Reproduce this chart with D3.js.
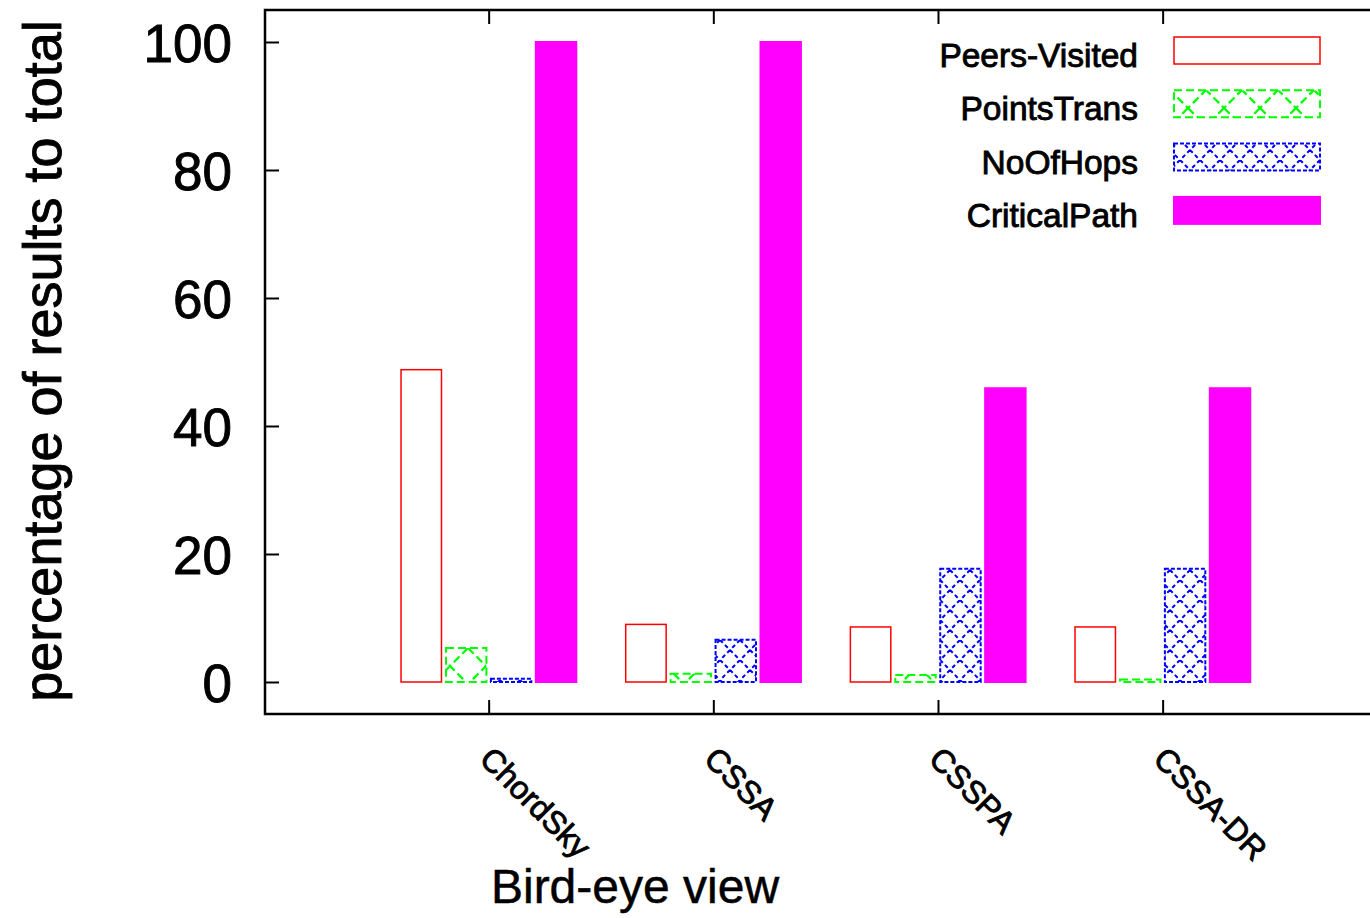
<!DOCTYPE html>
<html>
<head>
<meta charset="utf-8">
<script src="https://cdn.jsdelivr.net/npm/d3@7"></script>
<style>
  html, body { margin: 0; padding: 0; background: #fff; }
  svg { display: block; font-family: "Liberation Sans", Arial, sans-serif; }
  .heavy { stroke: #000; stroke-width: 0.9px; paint-order: stroke fill; }
</style>
</head>
<body>
<svg id="chart" width="1370" height="918"></svg>
<script>
// Categories (x positions 1..4) and the four measured series (percent of total)
const categories = ["ChordSky", "CSSA", "CSSPA", "CSSA-DR"];
const seriesNames = ["Peers-Visited", "PointsTrans", "NoOfHops", "CriticalPath"];
const peersVisited = [48.8, 9.0, 8.6, 8.6];
const pointsTrans  = [5.3, 1.3, 1.1, 0.4];
const noOfHops     = [0.5, 6.6, 17.7, 17.7];
const criticalPath = [100, 100, 45.9, 45.9];
const yTicks = [0, 20, 40, 60, 80, 100];

const seriesValues = [peersVisited, pointsTrans, noOfHops, criticalPath];

const svg = d3.select("#chart");
const W = 1370, H = 918;

// Plot box: frame continues past the right edge of the canvas
const x = d3.scaleLinear().domain([0, 5]).range([264, 1387.3]);
const y = d3.scaleLinear().domain([-5, 105]).range([714, 10]);

// Fill patterns for the hatched series
const defs = svg.append("defs");
function crossHatch(id, color, period, dash, width) {
  const p = defs.append("pattern")
    .attr("id", id)
    .attr("patternUnits", "userSpaceOnUse")
    .attr("width", period).attr("height", period);
  p.append("path")
    .attr("d", `M0,0 L${period},${period} M${period},0 L0,${period}`)
    .attr("stroke", color).attr("stroke-width", width)
    .attr("stroke-dasharray", dash).attr("fill", "none");
}
crossHatch("hatchGreen", "#00ff00", 36, "8,4", 2.2);
crossHatch("hatchBlue", "#0000ff", 20, "4,3", 2.0);

const styles = [
  { fill: "none", stroke: "#ff0000", dash: null },
  { fill: "url(#hatchGreen)", stroke: "#00ff00", dash: "8,4" },
  { fill: "url(#hatchBlue)", stroke: "#0000ff", dash: "4,2" },
  { fill: "#ff00ff", stroke: "#ff00ff", dash: null }
];

const offsets = [-0.3, -0.1, 0.1, 0.3];
const barW = 0.18;

// Bars
seriesValues.forEach((vals, s) => {
  const st = styles[s];
  svg.append("g").selectAll("rect")
    .data(vals)
    .join("rect")
    .attr("x", (d, i) => x(i + 1 + offsets[s] - barW / 2))
    .attr("width", x(barW) - x(0))
    .attr("y", d => y(d))
    .attr("height", d => y(0) - y(d))
    .attr("fill", st.fill)
    .attr("stroke", st.stroke)
    .attr("stroke-width", s === 0 ? 1.5 : 2)
    .attr("stroke-dasharray", st.dash);
});

// Frame (left, top, bottom)
svg.append("path")
  .attr("d", `M${W + 20},${y.range()[1]} L${x.range()[0] + 1},${y.range()[1]} L${x.range()[0] + 1},${y.range()[0]} L${W + 20},${y.range()[0]}`)
  .attr("fill", "none").attr("stroke", "#000").attr("stroke-width", 2.5);

// Y axis
const yAxis = svg.append("g")
  .attr("transform", `translate(${x.range()[0] + 1},0)`)
  .call(d3.axisLeft(y).tickValues(yTicks).tickSizeInner(-14).tickSizeOuter(0).tickPadding(33));
yAxis.select(".domain").remove();
yAxis.selectAll(".tick line").attr("stroke-width", 2);
yAxis.selectAll(".tick text")
  .attr("class", "heavy")
  .attr("font-size", 53).attr("font-family", "Liberation Sans, Arial, sans-serif")
  .attr("fill", "#000").attr("dy", "0.36em");

// X axis (bottom) with category ticks
const xAxis = svg.append("g")
  .attr("transform", `translate(0,${y.range()[0]})`)
  .call(d3.axisBottom(x).tickValues([1, 2, 3, 4]).tickSizeInner(-14).tickSizeOuter(0).tickFormat(""));
xAxis.select(".domain").remove();
xAxis.selectAll(".tick line").attr("stroke-width", 2);

// Mirrored ticks on the top edge
const xTop = svg.append("g")
  .attr("transform", `translate(0,${y.range()[1]})`)
  .call(d3.axisTop(x).tickValues([1, 2, 3, 4]).tickSizeInner(-14).tickSizeOuter(0).tickFormat(""));
xTop.select(".domain").remove();
xTop.selectAll(".tick line").attr("stroke-width", 2);

// Rotated category labels
svg.append("g").selectAll("text")
  .data(categories)
  .join("text")
  .attr("class", "heavy")
  .attr("transform", (d, i) => `translate(${x(i + 1) - 3},753) rotate(45)`)
  .attr("text-anchor", "start")
  .attr("dominant-baseline", "central")
  .attr("font-size", 32)
  .attr("fill", "#000")
  .text(d => d);

// Axis titles
svg.append("text")
  .attr("x", 635).attr("y", 903)
  .attr("text-anchor", "middle")
  .attr("font-size", 48)
  .attr("class", "heavy")
  .style("stroke-width", "0.5px")
  .text("Bird-eye view");

svg.append("text")
  .attr("transform", "translate(61,361) rotate(-90)")
  .attr("text-anchor", "middle")
  .attr("font-size", 54)
  .attr("class", "heavy")
  .text("percentage of results to total");

// Legend
const legendTop = 50, legendStep = 53.3;
const legend = svg.append("g");
seriesNames.forEach((name, s) => {
  const cy = legendTop + s * legendStep;
  const st = styles[s];
  legend.append("text")
    .attr("x", 1138).attr("y", cy + 17)
    .attr("text-anchor", "end")
    .attr("font-size", 33.5)
    .attr("class", "heavy")
    .text(name);
  legend.append("rect")
    .attr("x", 1174).attr("y", cy - 13)
    .attr("width", 146).attr("height", 27)
    .attr("fill", st.fill)
    .attr("stroke", st.stroke)
    .attr("stroke-width", s === 0 ? 1.5 : 2)
    .attr("stroke-dasharray", st.dash);
});
</script>
</body>
</html>
